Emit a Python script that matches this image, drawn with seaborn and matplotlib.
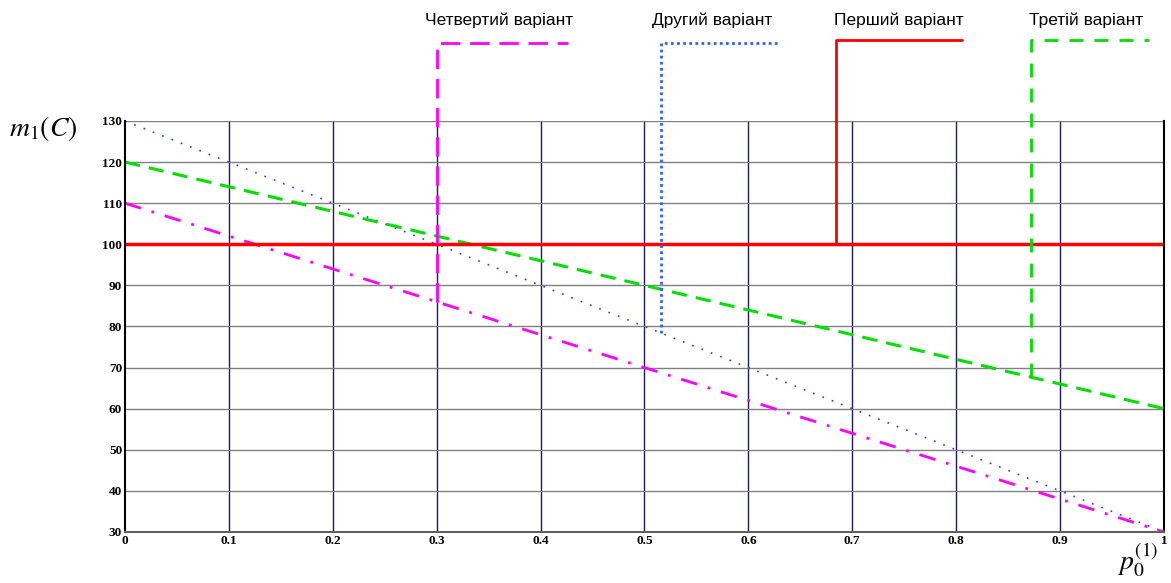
import matplotlib
matplotlib.use("Agg")
import matplotlib.pyplot as plt
import seaborn as sns
import pandas as pd

# values
p0 = [0.0, 0.1, 0.2, 0.3, 0.4, 0.5, 0.6, 0.7, 0.8, 0.9, 1.0]
variant1 = [100, 100, 100, 100, 100, 100, 100, 100, 100, 100, 100]
variant2 = [130, 120, 110, 100, 90, 80, 70, 60, 50, 40, 30]
variant3 = [120, 114, 108, 102, 96, 90, 84, 78, 72, 66, 60]
variant4 = [110, 102, 94, 86, 78, 70, 62, 54, 46, 38, 30]

labels = ["Четвертий варіант", "Другий варіант", "Перший варіант", "Третій варіант"]
# where each leader line leaves its curve (x on the curve, y on the curve)
leader_x = [0.30, 0.516, 0.684, 0.872]
leader_y = [86, 78.4, 100, 67.7]

df = pd.DataFrame({"p0": p0, "v1": variant1, "v2": variant2,
                   "v3": variant3, "v4": variant4})

sns.set_style("white")
plt.rcParams["text.color"] = "black"
plt.rcParams["xtick.color"] = "black"
plt.rcParams["ytick.color"] = "black"
fig = plt.figure(figsize=(11.71, 5.83), dpi=100)
ax = fig.add_axes([0.1067, 0.0875, 0.8873, 0.705])

sns.lineplot(data=df, x="p0", y="v2", ax=ax, color="#1f3fff", lw=1.2,
             linestyle=(0, (1, 5)))
sns.lineplot(data=df, x="p0", y="v3", ax=ax, color="#00e000", lw=2.2,
             linestyle=(0, (5, 3)))
sns.lineplot(data=df, x="p0", y="v4", ax=ax, color="#ff00ff", lw=2.0,
             linestyle=(0, (6, 4, 1, 4)))
sns.lineplot(data=df, x="p0", y="v1", ax=ax, color="#ff0000", lw=2.5)

ax.set_xlim(0, 1)
ax.set_ylim(30, 130)
ax.set_xticks(p0)
ax.set_xticklabels(["0", "0.1", "0.2", "0.3", "0.4", "0.5", "0.6", "0.7",
                    "0.8", "0.9", "1"])
ax.set_yticks(range(30, 131, 10))
ax.set_xlabel("")
ax.set_ylabel("")
ax.tick_params(axis="both", length=0, pad=2, labelsize=9.5, labelcolor="black")
for t in ax.get_xticklabels() + ax.get_yticklabels():
    t.set_fontfamily("Liberation Serif")
    t.set_fontweight("bold")

for x in p0[1:-1]:
    ax.axvline(x, color="#1a1a5e", lw=1.0, zorder=0)
for y in range(40, 131, 10):
    ax.axhline(y, color="#808080", lw=1.0, zorder=0)

ax.spines["top"].set_visible(False)
ax.spines["left"].set_color("black")
ax.spines["left"].set_linewidth(1.5)
ax.spines["right"].set_color("black")
ax.spines["right"].set_linewidth(1.5)
ax.spines["bottom"].set_color("#606060")
ax.spines["bottom"].set_linewidth(1.5)

# leader lines going up to the variant captions
top_y = [149, 149, 149.7, 149.7]
end_x = [0.426, 0.63, 0.806, 0.986]
styles = [dict(color="#ff00ff", lw=2.0, linestyle=(0, (7, 3.5))),
          dict(color="#3060ff", lw=2.0, linestyle=(0, (1, 1.2))),
          dict(color="#ff0000", lw=2.0, linestyle="-"),
          dict(color="#00e000", lw=2.0, linestyle=(0, (5, 4)))]
text_x = [0.36, 0.565, 0.745, 0.925]
for lab, lx, ly, ty, ex, st, tx in zip(labels, leader_x, leader_y, top_y,
                                        end_x, styles, text_x):
    ax.plot([lx, lx, ex], [ly, ty, ty], clip_on=False, **st)
    ax.text(tx, 154.5, lab, ha="center", va="center", fontsize=12.5,
            family="Liberation Sans", color="black", clip_on=False)

plt.rcParams["mathtext.fontset"] = "stix"
fig.text(0.037, 0.78, r"$m_1(C)$", fontsize=20, ha="center", va="center",
         color="black")
fig.text(0.972, 0.04, r"$p_0^{(1)}$", fontsize=20, ha="center", va="center",
         color="black")

fig.savefig("out.png", dpi=100)
